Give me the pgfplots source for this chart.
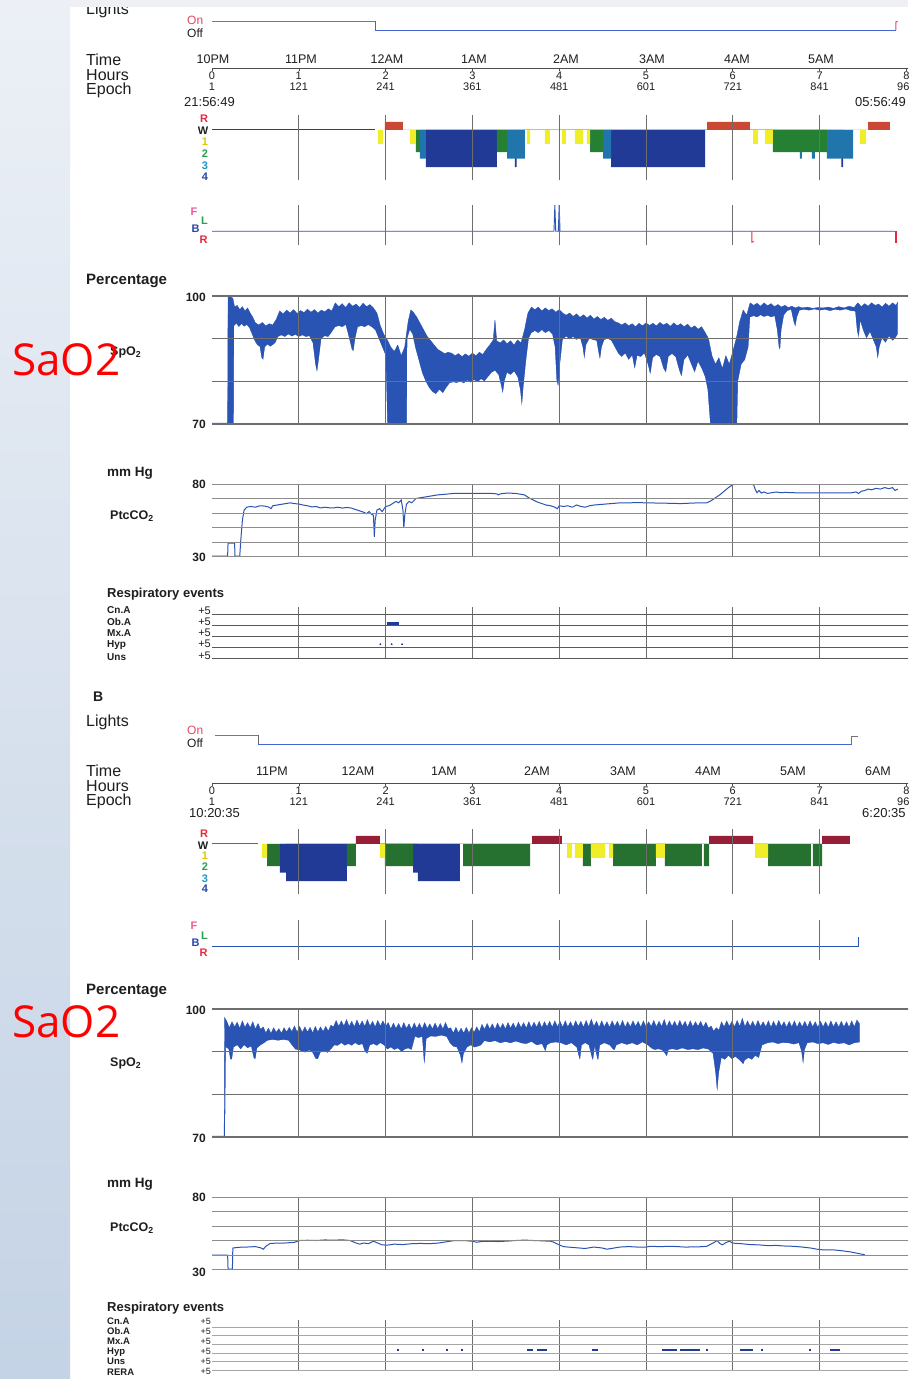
\documentclass[border=0pt]{standalone}
\usepackage{fontspec}
\setmainfont{Liberation Sans}
\newfontfamily\annfont{Open Sans}
\usepackage{pgfplots}
\pgfplotsset{compat=1.18}
\definecolor{sig}{RGB}{42,84,180}
\definecolor{gridc}{RGB}{110,110,110}
\definecolor{sone}{RGB}{240,238,40}
\definecolor{stwo}{RGB}{38,128,52}
\definecolor{stwoB}{RGB}{38,112,48}
\definecolor{sthree}{RGB}{32,118,172}
\definecolor{sfour}{RGB}{32,58,150}
\definecolor{remA}{RGB}{205,72,52}
\definecolor{remB}{RGB}{150,30,55}
\definecolor{pinkred}{RGB}{232,70,100}
\definecolor{lblue}{RGB}{70,100,210}
\definecolor{txt}{RGB}{30,30,30}
\definecolor{bgtop}{RGB}{236,240,246}
\definecolor{bgbot}{RGB}{196,211,229}
\definecolor{bandc}{RGB}{238,240,243}
\definecolor{labR}{RGB}{230,40,60}
\definecolor{labY}{RGB}{225,200,0}
\definecolor{labG}{RGB}{40,160,80}
\definecolor{labT}{RGB}{30,150,200}
\definecolor{labB}{RGB}{40,70,170}
\definecolor{labF}{RGB}{240,90,150}
\newcommand\fs[1]{\fontsize{#1}{#1}\selectfont}
\pgfplotsset{
  base/.style={scale only axis, width=710pt, xmin=0, xmax=8.18,
    xtick={1,2,3,4,5,6,7}, xticklabels={}, ytick=\empty, yticklabels={}, major tick length=0pt,
    axis line style={draw=none}, xmajorgrids, axis on top,
    x grid style={gridc, line width=0.8pt}},
  timeax/.style={scale only axis, width=710pt, xmin=0, xmax=8.18, height=1pt, ymin=0, ymax=1,
    axis y line=none, axis x line=bottom, x axis line style={-, black!70, line width=0.8pt},
    xtick={0,...,8},
    xticklabels={{0\\1},{1\\121},{2\\241},{3\\361},{4\\481},{5\\601},{6\\721},{7\\841},{8\\961}},
    xticklabel style={align=center, font=\fs{11}, inner sep=0.5pt, text=txt},
    tick style={black!70, line width=0.6pt}, major tick length=3pt, tick align=outside},
  evt/.style={sfour, line width=1.6pt, unbounded coords=jump},
}
\begin{document}
\begin{tikzpicture}
\begin{scope}
\clip (0,0) rectangle (908pt,-1379pt);
\fill[white] (0,0) rectangle (908pt,-1379pt);
\shade[top color=bgtop, bottom color=bgbot] (0,0) rectangle (70pt,-1379pt);

%================ PANEL A =================
\begin{axis}[base, at={(212pt,-30pt)}, anchor=south west, height=9pt, ymin=0, ymax=1, xmajorgrids=false, clip=false]
\addplot[pinkred, line width=1pt] coordinates {(0,1) (1.878,1)};
\addplot[black!60, line width=1pt] coordinates {(1.878,1) (1.878,0)};
\addplot[lblue, line width=1pt] coordinates {(1.878,0) (7.88,0)};
\addplot[pinkred, line width=1pt] coordinates {(7.88,0) (7.88,0.9) (7.90,0.95)};
\end{axis}
\begin{axis}[timeax, at={(212pt,-68pt)}, anchor=south west]
\addplot[draw=none] coordinates {(0,0) (8,0)};
\end{axis}
\begin{axis}[base, at={(212pt,-180pt)}, anchor=south west, height=65pt, ymin=-5.4, ymax=1.6]
\addplot[black!75, line width=0.8pt] coordinates {(0,0) (1.878,0)};
\addplot[fill=sfour, draw=none] coordinates {(2.465,0) (2.465,-4) (3.283,-4) (3.283,0) (3.49,0) (3.49,-4) (3.51,-4) (3.51,0) (4.597,0) (4.597,-4) (5.680,-4) (5.680,0) (7.25,0) (7.25,-4) (7.27,-4) (7.27,0)} -- cycle;
\addplot[fill=sthree, draw=none] coordinates {(2.396,0) (2.396,-3.1) (2.465,-3.1) (2.465,0) (3.399,0) (3.399,-3.1) (3.606,-3.1) (3.606,0) (4.505,0) (4.505,-3.1) (4.597,-3.1) (4.597,0) (6.774,0) (6.774,-3.1) (6.797,-3.1) (6.797,0) (6.912,0) (6.912,-3.1) (6.947,-3.1) (6.947,0) (7.085,0) (7.085,-3.1) (7.385,-3.1) (7.385,0)} -- cycle;
\addplot[fill=stwo, draw=none] coordinates {(2.350,0) (2.350,-2.4) (2.396,-2.4) (2.396,0) (3.283,0) (3.283,-2.4) (3.399,-2.4) (3.399,0) (4.355,0) (4.355,-2.4) (4.505,-2.4) (4.505,0) (6.463,0) (6.463,-2.4) (7.085,-2.4) (7.085,0)} -- cycle;
\addplot[fill=sone, draw=none] coordinates {(1.912,0) (1.912,-1.5) (1.970,-1.5) (1.970,0) (2.281,0) (2.281,-1.5) (2.350,-1.5) (2.350,0) (3.629,0) (3.629,-1.5) (3.664,-1.5) (3.664,0) (3.836,0) (3.836,-1.5) (3.894,-1.5) (3.894,0) (4.032,0) (4.032,-1.5) (4.078,-1.5) (4.078,0) (4.182,0) (4.182,-1.5) (4.274,-1.5) (4.274,0) (4.320,0) (4.320,-1.5) (4.355,-1.5) (4.355,0) (6.233,0) (6.233,-1.5) (6.290,-1.5) (6.290,0) (6.371,0) (6.371,-1.5) (6.463,-1.5) (6.463,0) (7.465,0) (7.465,-1.5) (7.535,-1.5) (7.535,0)} -- cycle;
\addplot[fill=remA, draw=none] coordinates {(1.993,0) (1.993,0.85) (2.200,0.85) (2.200,0) (5.703,0) (5.703,0.85) (6.198,0.85) (6.198,0) (7.558,0) (7.558,0.85) (7.811,0.85) (7.811,0)} -- cycle;
\end{axis}
\begin{axis}[base, at={(212pt,-245pt)}, anchor=south west, height=40pt, ymin=-0.2, ymax=3.3, axis lines=left, axis line style={-, black!65, line width=0.8pt}]
\addplot[sig, line width=0.9pt] coordinates {(0,1) (3.94,1) (3.95,3.3) (3.96,1) (3.99,1) (4.00,3.3) (4.01,1) (7.87,1)};
\addplot[labR, line width=0.9pt] coordinates {(6.22,1) (6.22,0.05) (6.24,0.1)};
\addplot[labR, line width=0.9pt] coordinates {(7.87,1) (7.87,0.05) (7.89,0.05) (7.89,1)};
\end{axis}
% SpO2 A : band = area under upper envelope, minus area under lower envelope
\begin{axis}[base, at={(212pt,-424pt)}, anchor=south west, height=128pt, ymin=70, ymax=100,
  ytick={70,80,90,100}, yticklabels={}, ymajorgrids, y grid style={gridc, line width=1.3pt},
  axis line style={gridc, line width=1.3pt}]
\addplot[fill=sig, draw=sig, line width=0.4pt] coordinates {
(0,70.2) (0.18,70.2) (0.185,100) (0.24,99.5) (0.26,97.4) (0.29,97.8) (0.32,96.8) (0.35,97.5) (0.38,96.5) (0.41,97.2) (0.44,96) (0.47,95) (0.50,93.7) (0.54,93.2) (0.58,93.8) (0.62,93) (0.66,93.5) (0.70,93.2) (0.74,94.5) (0.78,96.5) (0.82,95.8) (0.86,96.7) (0.90,96) (0.94,96.8) (0.98,95.9) (1.02,96.6) (1.06,96.1) (1.10,96.9) (1.14,96.2) (1.18,96.8) (1.22,96) (1.26,96.7) (1.30,96.3) (1.34,97) (1.38,96.5) (1.42,98.4) (1.46,97.5) (1.50,98.2) (1.54,97.3) (1.58,98.4) (1.62,97.6) (1.66,98.1) (1.70,97.3) (1.74,98.3) (1.78,97.5) (1.82,98) (1.86,97.2) (1.90,96) (1.94,93) (1.98,91) (2.02,89.7) (2.06,88) (2.10,87) (2.14,88.5) (2.18,86) (2.22,88) (2.26,94) (2.29,96.7) (2.32,96.2) (2.36,95) (2.40,93.5) (2.44,92) (2.48,90.5) (2.52,89.5) (2.56,88.5) (2.60,87.5) (2.64,87) (2.68,86.5) (2.72,86.8) (2.76,86.6) (2.80,86) (2.84,86.5) (2.88,85.8) (2.92,86.4) (2.96,85.9) (3.00,86.6) (3.04,86) (3.08,86.8) (3.12,86.3) (3.16,87.5) (3.20,88.5) (3.24,89.7) (3.26,94.4) (3.28,89.5) (3.32,89) (3.36,89.7) (3.40,88.8) (3.44,89.5) (3.48,88.5) (3.52,89.7) (3.56,89) (3.60,92) (3.64,96) (3.68,97.4) (3.72,96.8) (3.76,97.4) (3.80,96.5) (3.84,97.2) (3.88,96.6) (3.92,97) (3.96,96.2) (4.00,96.8) (4.04,96) (4.08,95.5) (4.12,96) (4.16,95.2) (4.20,95.8) (4.24,95) (4.28,95.6) (4.32,94.8) (4.36,95.5) (4.40,94.6) (4.44,95.2) (4.48,94.5) (4.52,95) (4.56,94.3) (4.60,94.8) (4.64,94) (4.68,93.7) (4.72,93.2) (4.76,93.7) (4.80,93) (4.84,93.5) (4.88,92.8) (4.92,93.6) (4.96,93) (5.00,93.7) (5.04,93.1) (5.08,93.6) (5.12,93) (5.16,93.8) (5.20,93.2) (5.24,93.6) (5.28,92.9) (5.32,93.7) (5.36,93) (5.40,93.5) (5.44,92.8) (5.48,93.4) (5.52,92.5) (5.56,93) (5.60,92.2) (5.64,92.8) (5.68,91.5) (5.72,90) (5.76,86) (5.80,84) (5.84,85.5) (5.88,83) (5.92,86) (5.96,84) (6.00,87) (6.04,90) (6.08,94) (6.12,96.7) (6.16,95.5) (6.20,98.4) (6.24,97.8) (6.28,98.3) (6.32,97.6) (6.36,98.4) (6.40,97.7) (6.44,98.2) (6.48,97.5) (6.52,98) (6.56,97.4) (6.60,97.8) (6.64,97.3) (6.68,97.6) (6.72,97.2) (6.76,97.5) (6.80,97.2) (6.86,97.4) (6.92,97.1) (6.98,97.3) (7.04,97.2) (7.10,97.4) (7.16,97.1) (7.22,97.5) (7.28,97.2) (7.34,97.6) (7.40,97.3) (7.44,98.4) (7.48,97.5) (7.52,98.2) (7.56,97.6) (7.60,98.4) (7.64,97.8) (7.68,98.1) (7.72,97.4) (7.76,98.3) (7.80,97.6) (7.84,98.4) (7.88,97.8) (7.90,98.5) (7.90,60) (0,60)} -- cycle;
\addplot[fill=white, draw=none] coordinates {
(0,69.8) (0.25,69.8) (0.255,93) (0.28,93.5) (0.31,92.7) (0.34,93.4) (0.37,92.8) (0.40,93.2) (0.43,92.5) (0.46,91) (0.49,89.5) (0.52,88.5) (0.55,88.1) (0.57,85.5) (0.59,85) (0.61,88) (0.64,88.6) (0.67,88.1) (0.70,88.5) (0.73,89) (0.76,90.4) (0.80,90.8) (0.84,90.4) (0.88,91) (0.92,90.5) (0.96,90.9) (1.00,90.4) (1.04,90.8) (1.08,90.4) (1.12,90.6) (1.16,89) (1.19,84) (1.21,82) (1.23,85) (1.26,90) (1.30,90.6) (1.34,90.4) (1.38,91.5) (1.42,92.7) (1.46,93) (1.50,92.7) (1.54,93.2) (1.58,90) (1.61,87.5) (1.63,87) (1.65,90) (1.68,92.7) (1.72,93) (1.76,92.7) (1.80,93.2) (1.84,92.7) (1.88,92) (1.92,90) (1.96,88) (2.00,86) (2.02,69.8) (2.245,69.8) (2.25,90) (2.28,92) (2.31,91) (2.34,88) (2.38,85) (2.42,82) (2.46,80) (2.50,78.5) (2.54,77.5) (2.58,77) (2.62,78) (2.66,77.2) (2.70,78.5) (2.74,79.6) (2.78,79.8) (2.82,79.6) (2.86,80) (2.90,79.5) (2.94,80.2) (2.98,79.7) (3.02,80.3) (3.06,79.8) (3.10,80.5) (3.14,80) (3.18,81) (3.22,82) (3.26,82.5) (3.30,81.5) (3.33,79) (3.35,77) (3.37,80) (3.40,82) (3.44,81.5) (3.48,82.3) (3.52,81) (3.55,78) (3.57,74) (3.59,79) (3.62,85) (3.65,90) (3.68,91.3) (3.72,91.8) (3.76,91.3) (3.80,92) (3.84,91.3) (3.88,91.8) (3.92,91) (3.95,88) (3.97,80) (3.99,78.7) (4.01,84) (4.04,89.7) (4.08,90.5) (4.12,89.8) (4.16,90.4) (4.20,89.7) (4.24,90.2) (4.27,88) (4.29,85) (4.31,88.5) (4.35,90) (4.39,89.7) (4.43,89.5) (4.45,87) (4.47,85) (4.49,88) (4.52,89.7) (4.56,90) (4.60,89.5) (4.64,88) (4.68,86.5) (4.72,85.7) (4.76,86.5) (4.80,85) (4.84,86) (4.87,82.7) (4.90,86) (4.94,85.7) (4.98,86.5) (5.02,84) (5.05,81.5) (5.08,85.5) (5.12,86.2) (5.16,85.7) (5.20,83) (5.23,82) (5.26,85.8) (5.30,86.4) (5.34,85.7) (5.38,82.7) (5.41,81) (5.44,85) (5.48,86) (5.52,84) (5.56,82) (5.60,84.5) (5.64,83) (5.68,81) (5.71,78) (5.74,69.8) (6.05,69.8) (6.06,80) (6.10,84) (6.14,85) (6.18,88) (6.20,95) (6.24,95.3) (6.28,95) (6.32,95.5) (6.36,95.1) (6.40,95.4) (6.44,95) (6.48,95.3) (6.51,92) (6.53,88) (6.545,87.3) (6.56,92) (6.59,95.5) (6.63,96.5) (6.67,96.8) (6.70,94) (6.72,92.7) (6.74,95) (6.77,96.6) (6.82,96.8) (6.88,96.6) (6.94,96.9) (7.00,96.6) (7.06,96.8) (7.12,96.5) (7.18,96.8) (7.24,96.6) (7.30,96.9) (7.36,96.5) (7.41,96.4) (7.43,92) (7.45,90) (7.47,94) (7.50,92) (7.54,90) (7.58,91.5) (7.62,89.5) (7.65,88) (7.67,85) (7.69,88) (7.72,90) (7.76,89) (7.80,90.5) (7.84,89.5) (7.87,90) (7.90,91) (7.92,91) (7.92,60) (0,60)} -- cycle;
\addplot[sig, line width=1pt] coordinates {(0,70.1) (0.19,70.1)};
\end{axis}
\begin{axis}[base, at={(212pt,-556.5pt)}, anchor=south west, height=72.5pt, ymin=30, ymax=80,
  ytick={30,40,50,60,70,80}, yticklabels={}, ymajorgrids, y grid style={black!45, line width=0.6pt},
  axis line style={black!45, line width=0.7pt}]
\addplot[sig, line width=1pt] coordinates {
(0,30.3) (0.18,30.3) (0.185,39.3) (0.26,39.3) (0.265,30.3) (0.32,30.3) (0.33,40) (0.35,55) (0.37,62) (0.40,64) (0.45,64.5) (0.50,64) (0.55,65) (0.60,64.8) (0.65,64.2) (0.68,63) (0.70,65) (0.75,65.5) (0.80,66) (0.85,66.5) (0.90,67) (0.95,66.5) (1.00,66.2) (1.05,65.5) (1.10,65) (1.15,64.2) (1.20,64.5) (1.25,63.5) (1.30,64) (1.35,63.6) (1.40,63.5) (1.45,64) (1.50,63.4) (1.55,63.8) (1.60,63.5) (1.65,62.5) (1.70,61.5) (1.75,60.5) (1.78,59.5) (1.81,61) (1.84,59) (1.86,58.5) (1.87,43.5) (1.88,55) (1.90,62) (1.93,63) (1.96,61) (2.00,64.5) (2.04,65) (2.08,66.5) (2.12,68) (2.15,67) (2.18,69) (2.20,62) (2.21,49.7) (2.22,58) (2.24,66) (2.27,68) (2.30,67) (2.35,70) (2.40,70.5) (2.50,71.5) (2.60,72.5) (2.70,73) (2.80,73.6) (3.00,73.6) (3.10,73.5) (3.20,73.6) (3.28,73.2) (3.30,72.5) (3.32,73.2) (3.40,73.8) (3.50,73.5) (3.60,72.5) (3.65,70.5) (3.70,69) (3.75,67.5) (3.80,66.5) (3.85,65.5) (3.90,65) (3.95,64) (3.98,63) (4.00,65) (4.05,64.5) (4.10,65) (4.15,64) (4.20,65.5) (4.25,64.5) (4.30,64) (4.35,65) (4.40,65.5) (4.50,66) (4.60,66.5) (4.70,67) (4.80,67) (4.90,67.2) (5.00,67) (5.20,66.8) (5.40,66.5) (5.60,67) (5.70,67) (5.75,68.5) (5.80,70.5) (5.85,72.5) (5.90,75) (5.95,77.5) (6.00,79.5) (6.05,80) (6.20,80) (6.24,79.5) (6.26,76) (6.28,74) (6.30,75.5) (6.33,73.8) (6.36,74.5) (6.40,73.5) (6.45,74) (6.50,74.5) (6.55,74) (6.60,74.2) (6.70,74) (6.80,73.8) (6.90,73.8) (7.00,73.8) (7.20,73.8) (7.35,73.8) (7.42,74.5) (7.45,73.5) (7.48,75) (7.52,75.5) (7.56,76.5) (7.60,76) (7.65,77) (7.70,76.5) (7.75,77.5) (7.80,76.8) (7.84,77.5) (7.87,75.5) (7.90,76.5)};
\end{axis}
\begin{axis}[base, at={(212pt,-658pt)}, anchor=south west, height=51pt, ymin=0, ymax=4.636,
  ytick={0,1,2,3,4}, yticklabels={}, ymajorgrids, y grid style={black!65, line width=0.8pt}]
\addplot[sfour, line width=2.6pt] coordinates {(2.02,3.15) (2.15,3.15)};
\addplot[only marks, mark=*, mark size=0.7pt, sfour] coordinates {(1.94,1.25) (2.07,1.25) (2.19,1.25)};
\end{axis}

%================ PANEL B =================
\begin{axis}[base, at={(212pt,-744pt)}, anchor=south west, height=9pt, ymin=0, ymax=1, xmajorgrids=false, clip=false]
\addplot[pinkred, line width=1pt] coordinates {(0.03,1) (0.53,1)};
\addplot[black!60, line width=1pt] coordinates {(0.53,1) (0.53,0)};
\addplot[lblue, line width=1pt] coordinates {(0.53,0) (7.373,0)};
\addplot[black!55, line width=1pt] coordinates {(7.373,0) (7.373,0.78) (7.44,0.78)};
\end{axis}
\begin{axis}[timeax, at={(212pt,-783pt)}, anchor=south west]
\addplot[draw=none] coordinates {(0,0) (8,0)};
\end{axis}
\begin{axis}[base, at={(212pt,-894pt)}, anchor=south west, height=65pt, ymin=-5.4, ymax=1.6]
\addplot[black!60, line width=0.8pt] coordinates {(0,0) (0.53,0)};
\addplot[fill=sfour, draw=none] coordinates {(0.853,0) (0.853,-4) (1.555,-4) (1.555,0) (2.373,0) (2.373,-4) (2.857,-4) (2.857,0)} -- cycle;
\addplot[fill=sfour, draw=none] coordinates {(0.783,0) (0.783,-3.1) (0.853,-3.1) (0.853,0) (2.316,0) (2.316,-3.1) (2.373,-3.1) (2.373,0)} -- cycle;
\addplot[fill=stwoB, draw=none] coordinates {(0.634,0) (0.634,-2.4) (0.783,-2.4) (0.783,0) (1.555,0) (1.555,-2.4) (1.659,-2.4) (1.659,0) (1.993,0) (1.993,-2.4) (2.316,-2.4) (2.316,0) (2.892,0) (2.892,-2.4) (3.664,-2.4) (3.664,0) (4.274,0) (4.274,-2.4) (4.366,-2.4) (4.366,0) (4.620,0) (4.620,-2.4) (5.115,-2.4) (5.115,0) (5.219,0) (5.219,-2.4) (5.645,-2.4) (5.645,0) (5.668,0) (5.668,-2.4) (5.726,-2.4) (5.726,0) (6.406,0) (6.406,-2.4) (6.901,-2.4) (6.901,0) (6.924,0) (6.924,-2.4) (7.028,-2.4) (7.028,0)} -- cycle;
\addplot[fill=sone, draw=none] coordinates {(0.576,0) (0.576,-1.5) (0.634,-1.5) (0.634,0) (1.935,0) (1.935,-1.5) (1.993,-1.5) (1.993,0) (4.090,0) (4.090,-1.5) (4.147,-1.5) (4.147,0) (4.182,0) (4.182,-1.5) (4.274,-1.5) (4.274,0) (4.366,0) (4.366,-1.5) (4.528,-1.5) (4.528,0) (4.574,0) (4.574,-1.5) (4.620,-1.5) (4.620,0) (5.115,0) (5.115,-1.5) (5.219,-1.5) (5.219,0) (6.256,0) (6.256,-1.5) (6.406,-1.5) (6.406,0)} -- cycle;
\addplot[fill=remB, draw=none] coordinates {(1.659,0) (1.659,0.85) (1.935,0.85) (1.935,0) (3.687,0) (3.687,0.85) (4.032,0.85) (4.032,0) (5.726,0) (5.726,0.85) (6.233,0.85) (6.233,0) (7.028,0) (7.028,0.85) (7.350,0.85) (7.350,0)} -- cycle;
\end{axis}
\begin{axis}[base, at={(212pt,-960pt)}, anchor=south west, height=40pt, ymin=-0.2, ymax=3.3, axis lines=left, axis line style={-, black!30, line width=0.6pt}]
\addplot[sig, line width=0.9pt] coordinates {(0,1) (7.442,1) (7.442,1.8)};
\end{axis}
\begin{axis}[base, at={(212pt,-1137pt)}, anchor=south west, height=128pt, ymin=70, ymax=100,
  ytick={70,80,90,100}, yticklabels={}, ymajorgrids, y grid style={gridc, line width=1.3pt},
  axis line style={gridc, line width=1.3pt}]
\addplot[fill=sig, draw=sig, line width=0.4pt] coordinates {
(0,70.2) (0.14,70.2) (0.145,98) (0.17,97.1) (0.20,95.6) (0.23,97.0) (0.26,95.8) (0.29,96.9) (0.32,95.5) (0.35,97.2) (0.38,95.7) (0.41,96.8) (0.44,95.6) (0.47,97.0) (0.50,95.3) (0.53,96.6) (0.56,95.2)
(0.59,95.8) (0.62,94.4) (0.65,95.5) (0.68,94.3) (0.71,95.6) (0.74,94.5) (0.77,95.4) (0.80,94.3) (0.83,95.6) (0.86,94.6) (0.89,95.7)
(0.92,94.7) (0.95,96.0) (0.98,94.6) (1.01,95.9) (1.04,94.5) (1.07,95.8) (1.10,94.6) (1.13,95.7) (1.16,94.4) (1.19,95.9) (1.22,94.6) (1.25,95.8) (1.28,94.7) (1.31,95.9) (1.34,94.8) (1.37,96.2)
(1.40,95.8) (1.43,97.3) (1.46,95.9) (1.49,97.2) (1.52,96.0) (1.55,97.5) (1.58,95.9) (1.61,97.1) (1.64,95.8) (1.67,97.4) (1.70,96.0) (1.73,97.2) (1.76,95.9) (1.79,97.5) (1.82,96.0) (1.85,97.1) (1.88,95.8) (1.91,97.3) (1.94,96.0) (1.97,97.2) (2.00,95.9)
(2.03,96.8) (2.06,95.3) (2.09,96.7) (2.12,95.4) (2.15,96.6) (2.18,95.3) (2.21,96.8) (2.24,95.4) (2.27,96.5) (2.30,95.2) (2.33,96.7) (2.36,95.4) (2.39,96.6) (2.42,95.3) (2.45,96.8) (2.48,95.4) (2.51,96.5) (2.54,95.3) (2.57,96.7) (2.60,95.4) (2.63,96.6) (2.66,95.3) (2.69,96.8) (2.72,95.4)
(2.75,95.6) (2.78,94.3) (2.81,95.7) (2.84,94.4) (2.87,95.5) (2.90,94.3) (2.93,95.7) (2.96,94.4) (2.99,95.6) (3.02,94.5) (3.05,95.8) (3.08,94.6)
(3.11,96.4) (3.14,95.2) (3.17,96.6) (3.20,95.3) (3.23,96.5) (3.26,95.2) (3.29,96.7) (3.32,95.4) (3.35,96.6) (3.38,95.3) (3.41,96.8) (3.44,95.5) (3.47,96.7) (3.50,95.4) (3.53,96.9) (3.56,95.6) (3.59,96.8) (3.62,95.5) (3.65,97.0) (3.68,95.6) (3.71,96.9) (3.74,95.7) (3.77,97.1) (3.80,95.6) (3.83,97.0) (3.86,95.8) (3.89,97.1) (3.92,95.7) (3.95,97.2) (3.98,95.8)
(4.01,97.1) (4.04,95.7) (4.07,97.2) (4.10,95.8) (4.13,97.0) (4.16,95.7) (4.19,97.2) (4.22,95.9) (4.25,97.1) (4.28,95.7) (4.31,97.3) (4.34,95.8) (4.37,97.6) (4.40,95.9) (4.43,97.1) (4.46,95.7) (4.49,97.2) (4.52,95.8) (4.55,97.0) (4.58,95.7) (4.61,97.2) (4.64,95.9) (4.67,97.1) (4.70,95.8) (4.73,97.3) (4.76,95.7) (4.79,97.0) (4.82,95.8) (4.85,97.2) (4.88,95.9) (4.91,97.1) (4.94,95.7) (4.97,97.2) (5.00,95.8) (5.03,97.0) (5.06,95.9) (5.09,97.3) (5.12,95.8) (5.15,97.1) (5.18,95.9) (5.21,97.5) (5.24,95.8) (5.27,97.2) (5.30,95.9) (5.33,97.1) (5.36,95.8) (5.39,97.3) (5.42,95.9) (5.45,97.1) (5.48,95.7) (5.51,97.2) (5.54,95.8) (5.57,97.0) (5.60,95.9) (5.63,97.1) (5.66,95.7) (5.69,96.9) (5.72,95.5)
(5.75,96.0) (5.78,94.8) (5.81,95.6) (5.84,95.0)
(5.87,97.0) (5.90,95.8) (5.93,97.2) (5.96,95.9) (5.99,97.1) (6.02,95.8) (6.05,97.3) (6.08,95.9) (6.11,97.8) (6.14,95.8) (6.17,97.2) (6.20,95.9) (6.23,97.1) (6.26,95.8) (6.29,97.3) (6.32,95.9) (6.35,97.0) (6.38,95.8) (6.41,97.2) (6.44,95.7) (6.47,97.1) (6.50,95.8) (6.53,97.3) (6.56,95.9) (6.59,97.0) (6.62,95.7) (6.65,97.1) (6.68,95.8) (6.71,97.2) (6.74,95.7) (6.77,97.0) (6.80,95.8) (6.83,97.1) (6.86,95.7) (6.89,97.2) (6.92,95.8) (6.95,97.0) (6.98,95.7) (7.01,97.1) (7.04,95.8) (7.07,97.0) (7.10,95.7) (7.13,97.2) (7.16,95.8) (7.19,97.0) (7.22,95.7) (7.25,97.1) (7.28,95.8) (7.31,97.0) (7.34,95.7) (7.37,97.2) (7.40,95.8) (7.43,97.4) (7.46,96.5)
(7.46,60) (0,60)} -- cycle;
\addplot[fill=white, draw=none] coordinates {
(0,69.8) (0.15,69.8) (0.16,91) (0.19,90.6) (0.21,88.2) (0.23,88.2) (0.25,91) (0.29,91.5) (0.33,90.5) (0.37,91.5) (0.41,90.8) (0.45,91.2) (0.48,88.5) (0.50,88.2) (0.52,90.8) (0.56,91.5) (0.60,92) (0.64,92.6) (0.70,92.8) (0.76,92.6) (0.82,92.8) (0.88,92.6) (0.92,91.5) (0.96,90.5) (1.00,90.4) (1.04,90) (1.08,89.8) (1.12,90.3) (1.16,89.7) (1.19,88.4) (1.22,88.2) (1.25,89.8) (1.29,90.2) (1.33,89.7) (1.37,90.5) (1.41,91.5) (1.45,91.4) (1.49,92) (1.53,91.4) (1.57,91.8) (1.61,91.4) (1.65,92) (1.69,91.5) (1.73,91.8) (1.76,90) (1.79,89.5) (1.82,91.5) (1.86,91.8) (1.90,91.4) (1.94,92) (1.98,91.5) (2.02,90.5) (2.06,91) (2.10,90.4) (2.14,90.8) (2.17,90.2) (2.19,90) (2.22,90.5) (2.26,90.8) (2.30,90.4) (2.34,93.5) (2.38,93.2) (2.42,93.5) (2.44,88) (2.45,86.9) (2.47,93) (2.52,93.6) (2.58,93.5) (2.64,93.8) (2.70,93.5) (2.74,92) (2.78,91.2) (2.82,91) (2.86,89) (2.88,86.9) (2.90,89.5) (2.94,91) (2.98,91.5) (3.02,91) (3.06,91.2) (3.10,91.5) (3.14,92.5) (3.20,92.2) (3.26,92.5) (3.32,92) (3.38,92.3) (3.44,92) (3.50,92.4) (3.56,92) (3.62,91.8) (3.68,92.3) (3.74,91.5) (3.80,91.8) (3.83,90.5) (3.84,89.9) (3.86,91.5) (3.90,92) (3.96,92.2) (4.02,92) (4.08,91.5) (4.14,92) (4.20,91) (4.23,88.5) (4.24,88) (4.26,91.5) (4.30,92) (4.34,91.5) (4.38,88.3) (4.39,88) (4.41,91) (4.44,88.2) (4.45,88) (4.47,91.5) (4.52,92) (4.58,91.5) (4.62,90.5) (4.64,90.4) (4.66,91.5) (4.72,92) (4.78,91.6) (4.84,92) (4.90,91.5) (4.96,92.2) (5.02,91.5) (5.06,90.8) (5.10,90.4) (5.14,90.6) (5.18,90.4) (5.22,89.5) (5.24,88.8) (5.26,90.4) (5.30,90.6) (5.36,90.4) (5.42,90.8) (5.48,90.4) (5.54,90.6) (5.60,90.4) (5.66,90.8) (5.72,90.5) (5.77,89.5) (5.80,85) (5.82,80.3) (5.84,85) (5.87,88.5) (5.91,88.1) (5.95,89) (5.99,88.2) (6.03,88.8) (6.07,88.1) (6.10,87.5) (6.12,87) (6.14,88) (6.18,88.5) (6.22,88.1) (6.26,89) (6.30,88.5) (6.34,91.5) (6.40,92) (6.46,92.2) (6.52,91.8) (6.58,92.1) (6.64,92) (6.70,91.7) (6.76,92) (6.79,90) (6.81,86.9) (6.83,90.5) (6.86,92) (6.92,92.2) (6.98,91.8) (7.04,92) (7.10,91.6) (7.16,92.1) (7.22,91.8) (7.28,92) (7.34,91.5) (7.40,92) (7.46,92.2) (7.48,92.2) (7.48,60) (0,60)} -- cycle;
\addplot[sig, line width=1pt] coordinates {(0,70.1) (0.15,70.1)};
\end{axis}
\begin{axis}[base, at={(212pt,-1269.5pt)}, anchor=south west, height=72.5pt, ymin=30, ymax=80,
  ytick={30,40,50,60,70,80}, yticklabels={}, ymajorgrids, y grid style={black!45, line width=0.6pt},
  axis line style={black!45, line width=0.7pt}]
\addplot[sig, line width=1pt] coordinates {
(0,40) (0.18,40) (0.185,30.3) (0.235,30.3) (0.24,44.8) (0.30,45.3) (0.40,45.5) (0.50,45.8) (0.56,45) (0.59,44) (0.62,46) (0.67,48) (0.75,48.2) (0.85,48.3) (0.95,48.8) (1.01,50) (1.10,50.2) (1.20,50) (1.30,50.4) (1.40,50.2) (1.50,50.5) (1.59,50) (1.65,48.5) (1.70,47.5) (1.75,48.3) (1.80,47.8) (1.86,49.5) (1.90,48.5) (1.96,47) (2.02,46.8) (2.10,47.5) (2.20,47.2) (2.30,47.8) (2.40,48) (2.50,47.8) (2.60,48.2) (2.74,49.5) (2.80,50) (2.90,50) (3.00,49.5) (3.05,48.8) (3.10,49.3) (3.20,49.5) (3.30,49.3) (3.40,49.6) (3.50,50) (3.60,50.3) (3.70,50) (3.80,49.8) (3.90,49.5) (3.93,49) (4.00,47) (4.05,45.8) (4.10,45.5) (4.20,45) (4.30,44.5) (4.40,45.5) (4.50,44.8) (4.55,44) (4.60,44.5) (4.70,45.5) (4.80,45.8) (4.90,45.5) (5.00,45.5) (5.05,46) (5.15,45.8) (5.30,46) (5.45,45.5) (5.60,45.6) (5.70,46) (5.78,48.5) (5.82,50) (5.85,48) (5.88,47) (5.92,48.5) (5.96,49.5) (6.00,48.2) (6.10,47.8) (6.20,47.2) (6.30,47) (6.40,46.5) (6.50,46.6) (6.60,46.2) (6.70,46) (6.80,45.5) (6.90,44.8) (6.97,44) (7.05,43.5) (7.15,43.6) (7.25,43) (7.35,42.2) (7.45,41) (7.52,40.2)};
\end{axis}
\begin{axis}[base, at={(212pt,-1370pt)}, anchor=south west, height=50pt, ymin=0, ymax=5.81,
  ytick={0,1,2,3,4,5}, yticklabels={}, ymajorgrids, y grid style={black!35, line width=0.6pt}]
\addplot[evt] coordinates {(2.13,2.3) (2.15,2.3) (2.16,nan) (2.42,2.3) (2.44,2.3) (2.45,nan) (2.70,2.3) (2.72,2.3) (2.73,nan) (2.87,2.3) (2.89,2.3) (2.90,nan) (3.63,2.3) (3.70,2.3) (3.71,nan) (3.74,2.3) (3.86,2.3) (3.87,nan) (4.38,2.3) (4.45,2.3) (4.46,nan) (5.18,2.3) (5.36,2.3) (5.37,nan) (5.39,2.3) (5.62,2.3) (5.63,nan) (5.69,2.3) (5.71,2.3) (5.72,nan) (6.08,2.3) (6.23,2.3) (6.24,nan) (6.33,2.3) (6.35,2.3) (6.36,nan) (6.88,2.3) (6.90,2.3) (6.91,nan) (7.12,2.3) (7.24,2.3)};
\end{axis}

%================ TEXT =================
\begin{scope}[every node/.style={text=txt, inner sep=0pt}]
\node[anchor=base west, font=\fs{16}] at (86pt,-14pt) {Lights};
\node[anchor=base west, font=\fs{12}, text=pinkred] at (187pt,-24pt) {On};
\node[anchor=base west, font=\fs{12}] at (187pt,-37pt) {Off};
\node[anchor=base west, font=\fs{16}] at (86pt,-65pt) {Time};
\node[anchor=base west, font=\fs{16}] at (86pt,-80pt) {Hours};
\node[anchor=base west, font=\fs{16}] at (86pt,-94pt) {Epoch};
\foreach \x/\t in {213/10PM,301/11PM,387/12AM,474/1AM,566/2AM,652/3AM,737/4AM,821/5AM}
  \node[anchor=base, font=\fs{12.5}] at (\x pt,-63.5pt) {\t};
\node[anchor=base, font=\fs{13}] at (209.5pt,-106.5pt) {21:56:49};
\node[anchor=base west, font=\fs{13}] at (855pt,-106.5pt) {05:56:49};
\node[anchor=base, font=\bfseries\fs{11}, text=labR] at (204pt,-122pt) {R};
\node[anchor=base, font=\bfseries\fs{11}] at (203pt,-134pt) {W};
\node[anchor=base, font=\bfseries\fs{11}, text=labY] at (205pt,-145pt) {1};
\node[anchor=base, font=\bfseries\fs{11}, text=labG] at (205pt,-157pt) {2};
\node[anchor=base, font=\bfseries\fs{11}, text=labT] at (205pt,-169pt) {3};
\node[anchor=base, font=\bfseries\fs{11}, text=labB] at (205pt,-180pt) {4};
\node[anchor=base, font=\bfseries\fs{11}, text=labF] at (194pt,-215pt) {F};
\node[anchor=base, font=\bfseries\fs{11}, text=labG] at (204.5pt,-224pt) {L};
\node[anchor=base, font=\bfseries\fs{11}, text=labB] at (195.5pt,-232pt) {B};
\node[anchor=base, font=\bfseries\fs{11}, text=labR] at (203.5pt,-243pt) {R};
\node[anchor=base west, font=\bfseries\fs{15}] at (86pt,-284.7pt) {Percentage};
\node[anchor=base west, font=\bfseries\fs{12.5}] at (110pt,-355.5pt) {SpO\textsubscript{2}};
\node[anchor=base east, font=\bfseries\fs{12}] at (206pt,-301pt) {100};
\node[anchor=base east, font=\bfseries\fs{12}] at (206pt,-428.5pt) {70};
\node[anchor=base west, font=\bfseries\fs{13.5}] at (107pt,-476.5pt) {mm Hg};
\node[anchor=base east, font=\bfseries\fs{12}] at (206pt,-488.5pt) {80};
\node[anchor=base west, font=\bfseries\fs{12.5}] at (110pt,-519.5pt) {PtcCO\textsubscript{2}};
\node[anchor=base east, font=\bfseries\fs{12}] at (206pt,-561pt) {30};
\node[anchor=base west, font=\bfseries\fs{13}] at (107pt,-597pt) {Respiratory events};
\foreach \y/\t in {613/Cn.A,625/Ob.A,636/Mx.A,647/Hyp,660/Uns}
  \node[anchor=base west, font=\bfseries\fs{10}] at (107pt,-\y pt) {\t};
\foreach \y in {614,625,636,647,659}
  \node[anchor=base east, font=\fs{11}] at (211pt,-\y pt) {+5};
\node[anchor=base west, font=\annfont\fs{44}, text=red] at (12pt,-375.5pt) {SaO2};
\node[anchor=base west, font=\bfseries\fs{14}] at (93pt,-701pt) {B};
\node[anchor=base west, font=\fs{16}] at (86pt,-726pt) {Lights};
\node[anchor=base west, font=\fs{12}, text=pinkred] at (187pt,-734.3pt) {On};
\node[anchor=base west, font=\fs{12}] at (187pt,-747pt) {Off};
\node[anchor=base west, font=\fs{16}] at (86pt,-776.5pt) {Time};
\node[anchor=base west, font=\fs{16}] at (86pt,-791.5pt) {Hours};
\node[anchor=base west, font=\fs{16}] at (86pt,-805.5pt) {Epoch};
\foreach \x/\t in {272/11PM,358/12AM,444/1AM,537/2AM,623/3AM,708/4AM,793/5AM,878/6AM}
  \node[anchor=base, font=\fs{12.5}] at (\x pt,-775.5pt) {\t};
\node[anchor=base, font=\fs{13}] at (214.5pt,-817.6pt) {10:20:35};
\node[anchor=base west, font=\fs{13}] at (862pt,-817.6pt) {6:20:35};
\node[anchor=base, font=\bfseries\fs{11}, text=labR] at (204pt,-837pt) {R};
\node[anchor=base, font=\bfseries\fs{11}] at (203pt,-849pt) {W};
\node[anchor=base, font=\bfseries\fs{11}, text=labY] at (205pt,-859pt) {1};
\node[anchor=base, font=\bfseries\fs{11}, text=labG] at (205pt,-870pt) {2};
\node[anchor=base, font=\bfseries\fs{11}, text=labT] at (205pt,-882pt) {3};
\node[anchor=base, font=\bfseries\fs{11}, text=labB] at (205pt,-892pt) {4};
\node[anchor=base, font=\bfseries\fs{11}, text=labF] at (194pt,-929pt) {F};
\node[anchor=base, font=\bfseries\fs{11}, text=labG] at (204.5pt,-939pt) {L};
\node[anchor=base, font=\bfseries\fs{11}, text=labB] at (195.5pt,-946pt) {B};
\node[anchor=base, font=\bfseries\fs{11}, text=labR] at (203.5pt,-956pt) {R};
\node[anchor=base west, font=\bfseries\fs{15}] at (86pt,-994.5pt) {Percentage};
\node[anchor=base west, font=\bfseries\fs{12.5}] at (110pt,-1066.5pt) {SpO\textsubscript{2}};
\node[anchor=base east, font=\bfseries\fs{12}] at (206pt,-1014.3pt) {100};
\node[anchor=base east, font=\bfseries\fs{12}] at (206pt,-1142.3pt) {70};
\node[anchor=base west, font=\bfseries\fs{13.5}] at (107pt,-1187pt) {mm Hg};
\node[anchor=base east, font=\bfseries\fs{12}] at (206pt,-1201.3pt) {80};
\node[anchor=base west, font=\bfseries\fs{12.5}] at (110pt,-1231.5pt) {PtcCO\textsubscript{2}};
\node[anchor=base east, font=\bfseries\fs{12}] at (206pt,-1276pt) {30};
\node[anchor=base west, font=\bfseries\fs{13}] at (107pt,-1311pt) {Respiratory events};
\foreach \y/\t in {1324.5/Cn.A,1334.5/Ob.A,1344.5/Mx.A,1354/Hyp,1364.5/Uns,1375/RERA}
  \node[anchor=base west, font=\bfseries\fs{9.5}] at (107pt,-\y pt) {\t};
\foreach \y in {1324.5,1334.5,1344.5,1354,1364.5,1374.5}
  \node[anchor=base east, font=\fs{9}] at (211pt,-\y pt) {+5};
\node[anchor=base west, font=\annfont\fs{44}, text=red] at (12pt,-1037.5pt) {SaO2};
\end{scope}
\fill[bandc] (70pt,0) rectangle (908pt,-7pt);
\end{scope}
\pgfresetboundingbox
\path[use as bounding box] (0,0) rectangle (908pt,-1379pt);
\end{tikzpicture}
\end{document}
